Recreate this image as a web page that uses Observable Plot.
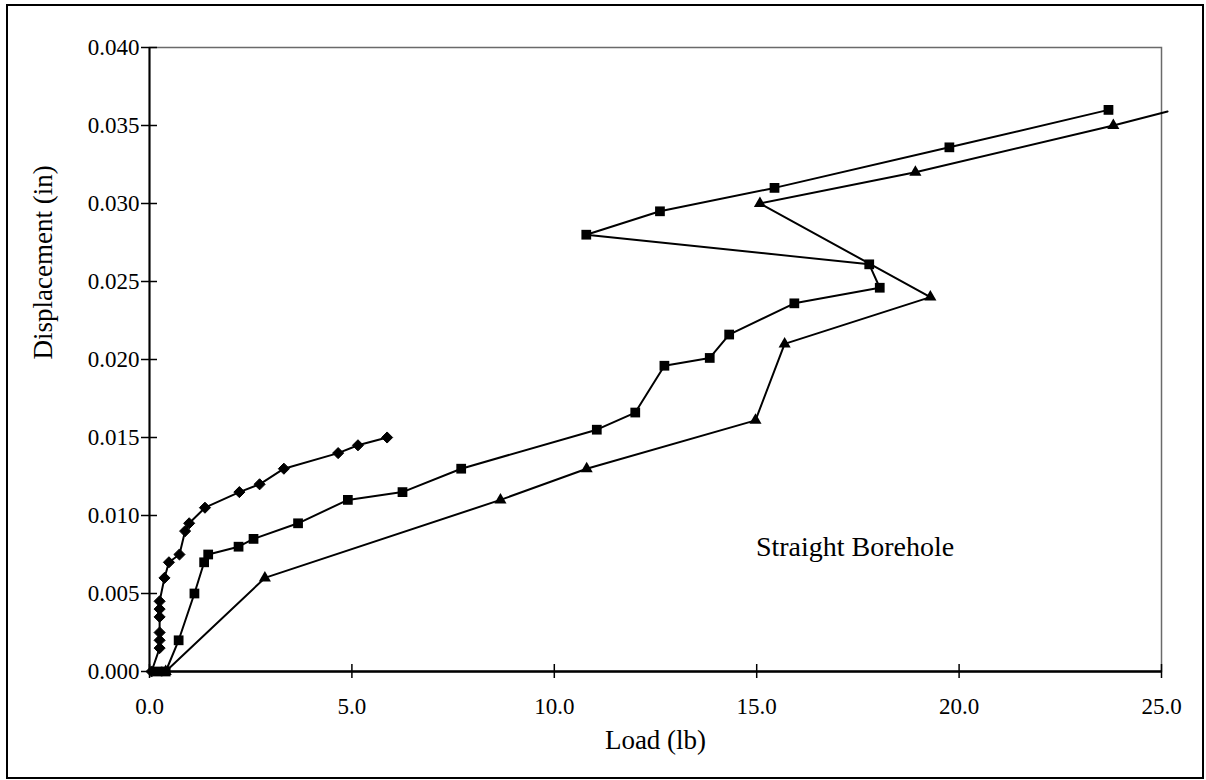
<!DOCTYPE html>
<html>
<head>
<meta charset="utf-8">
<script src="https://cdn.jsdelivr.net/npm/d3@7"></script>
<script src="https://cdn.jsdelivr.net/npm/@observablehq/plot@0.6"></script>
<style>
  body { margin: 0; background: #fff; }
  #wrap { position: relative; width: 1206px; height: 780px; overflow: hidden; background: #fff; }
  #border { position: absolute; left: 6px; top: 4px; width: 1198px; height: 775px; border: 2px solid #000; box-sizing: border-box; pointer-events: none; }
</style>
</head>
<body>
<div id="wrap"><div id="chart"></div><div id="border"></div></div>
<script>
// ---- data ----
const diamondLoad = [0.05, 0.25, 0.25, 0.25, 0.25, 0.25, 0.25, 0.37, 0.48, 0.74, 0.88, 0.98, 1.37, 2.22, 2.72, 3.32, 4.66, 5.15, 5.87];
const diamondDisp = [0.000, 0.0015, 0.002, 0.0025, 0.0035, 0.004, 0.0045, 0.006, 0.007, 0.0075, 0.009, 0.0095, 0.0105, 0.0115, 0.012, 0.013, 0.014, 0.0145, 0.015];

const squareLoad = [0.2, 0.4, 0.72, 1.11, 1.35, 1.45, 2.2, 2.57, 3.67, 4.9, 6.25, 7.7, 11.05, 12.0, 12.72, 13.84, 14.32, 15.93, 18.04, 17.78, 10.79, 12.61, 15.44, 19.76, 23.69];
const squareDisp = [0.000, 0.000, 0.002, 0.005, 0.007, 0.0075, 0.008, 0.0085, 0.0095, 0.011, 0.0115, 0.013, 0.0155, 0.0166, 0.0196, 0.0201, 0.0216, 0.0236, 0.0246, 0.0261, 0.028, 0.0295, 0.031, 0.0336, 0.036];

const triangleLoad = [0.4, 2.85, 8.67, 10.8, 14.97, 15.69, 19.29, 15.08, 18.92, 23.81];
const triangleDisp = [0.000, 0.006, 0.011, 0.013, 0.0161, 0.021, 0.024, 0.030, 0.032, 0.035];
// the triangle line continues just past the right edge of the plot
const triangleOffLoad = [25.15];
const triangleOffDisp = [0.0359];

const xTicks = [0, 5, 10, 15, 20, 25];
const yTicks = [0, 0.005, 0.010, 0.015, 0.020, 0.025, 0.030, 0.035, 0.040];

const annotLoad = [17.43];
const annotDisp = [0.0080];
const annotText = ["Straight Borehole"];

const xTitle = "Load (lb)";
const yTitle = "Displacement (in)";

// ---- build tables ----
const toRows = (name, xs, ys) => xs.map((x, i) => ({series: name, x, y: ys[i]}));
const diamonds = toRows("diamond", diamondLoad, diamondDisp);
const squares = toRows("square", squareLoad, squareDisp);
const triangles = toRows("triangle", triangleLoad, triangleDisp);
const triangleLine = triangles.concat(toRows("triangle", triangleOffLoad, triangleOffDisp));
const annot = annotText.map((t, i) => ({x: annotLoad[i], y: annotDisp[i], t}));

const chart = Plot.plot({
  width: 1206,
  height: 780,
  marginLeft: 149,
  marginRight: 45,
  marginTop: 47,
  marginBottom: 109,
  style: {fontFamily: "'Liberation Serif', 'Times New Roman', serif", fontSize: "23px", background: "transparent", color: "#000"},
  x: {domain: [0, 25], axis: null},
  y: {domain: [0, 0.04], axis: null},
  marks: [
    Plot.frame({stroke: "#6a6a6a", strokeWidth: 1.5}),
    Plot.axisY({ticks: yTicks, tickSize: 16, dx: 8, tickPadding: 2, tickFormat: d3.format(".3f"), label: null, strokeWidth: 1.5, fontSize: 23}),
    Plot.axisX({ticks: xTicks, tickSize: 14, dy: -7, tickPadding: 19, tickFormat: d3.format(".1f"), label: null, strokeWidth: 1.5, fontSize: 23}),
    Plot.ruleX([0], {stroke: "#000", strokeWidth: 2}),
    Plot.ruleY([0], {stroke: "#000", strokeWidth: 2.5}),
    Plot.line(diamonds, {x: "x", y: "y", stroke: "#000", strokeWidth: 2}),
    Plot.line(squares, {x: "x", y: "y", stroke: "#000", strokeWidth: 2}),
    Plot.line(triangleLine, {x: "x", y: "y", stroke: "#000", strokeWidth: 2}),
    Plot.dot(diamonds, {x: "x", y: "y", symbol: "diamond2", r: 5, fill: "#000", stroke: "#000", strokeWidth: 1}),
    Plot.dot(squares, {x: "x", y: "y", symbol: "square", r: 5.5, fill: "#000", stroke: "none"}),
    Plot.dot(triangles, {x: "x", y: "y", symbol: "triangle", r: 4.5, fill: "#000", stroke: "none"}),
    Plot.text(annot, {x: "x", y: "y", text: "t", fontSize: 28, textAnchor: "middle", fill: "#000"}),
    Plot.text([xTitle], {frameAnchor: "bottom", dy: 77, fontSize: 27, fill: "#000"}),
    Plot.text([yTitle], {frameAnchor: "left", rotate: -90, dx: -106, fontSize: 27, fill: "#000"})
  ]
});
document.getElementById("chart").appendChild(chart);
</script>
</body>
</html>
